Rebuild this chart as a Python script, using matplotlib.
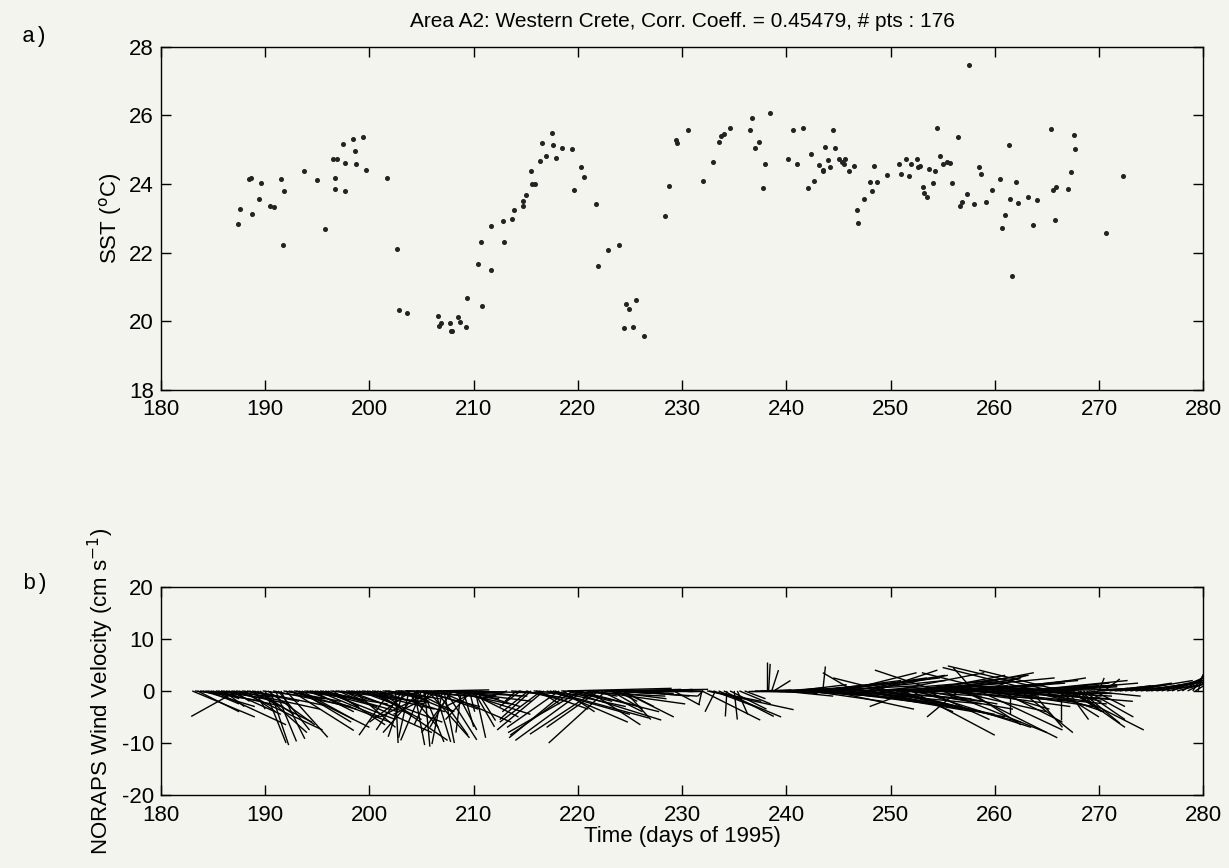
import matplotlib
matplotlib.use("Agg")
import matplotlib.pyplot as plt

sst_day = [187.4, 187.6, 188.4, 188.6, 188.7, 189.4, 189.6, 190.5, 190.8, 191.5,
           191.8, 191.7, 193.7, 195.0, 195.7, 196.5, 196.9, 196.7, 196.7, 197.5,
           197.7, 197.7, 198.4, 198.6, 198.7, 199.4, 199.7, 201.7, 202.6, 202.8,
           203.6, 206.6, 206.7, 206.9, 207.7, 207.8, 207.9, 208.5, 208.7, 209.3,
           209.4, 210.4, 210.7, 210.8, 211.7, 211.7, 212.8, 212.9, 213.7, 213.9,
           214.7, 214.7, 215.0, 215.5, 215.6, 215.9, 216.4, 216.6, 216.9, 217.5,
           217.6, 217.9, 218.5, 219.4, 219.6, 220.3, 220.6, 221.7, 221.9, 222.9,
           223.9, 224.4, 224.6, 224.9, 225.3, 225.6, 226.3, 228.4, 228.7, 229.4,
           229.5, 230.6, 232.0, 233.0, 233.5, 233.7, 234.0, 234.6, 236.5, 236.7,
           237.0, 237.4, 237.8, 238.0, 238.4, 240.2, 240.6, 241.0, 241.6, 242.1,
           242.4, 242.7, 243.1, 243.5, 243.5, 243.7, 244.0, 244.2, 244.5, 244.7,
           245.1, 245.3, 245.5, 245.6, 246.0, 246.5, 246.8, 246.9, 247.5, 248.0,
           248.2, 248.4, 248.7, 249.7, 250.8, 251.0, 251.5, 251.8, 252.0, 252.5,
           252.6, 252.8, 253.1, 253.2, 253.5, 253.7, 254.05, 254.3, 254.5, 254.7,
           255.0, 255.4, 255.7, 255.9, 256.5, 256.7, 256.9, 257.3, 257.5, 258.0,
           258.5, 258.7, 259.2, 259.7, 260.5, 260.7, 261.0, 261.4, 261.5, 261.7,
           262.0, 262.2, 263.2, 263.7, 264.1, 265.4, 265.6, 265.9, 265.8, 267.0,
           267.3, 267.6, 267.7, 270.7, 272.3]
sst_val = [22.82, 23.26, 24.15, 24.19, 23.12, 23.57, 24.04, 23.36, 23.33, 24.16,
           23.80, 22.23, 24.39, 24.12, 22.70, 24.72, 24.72, 24.19, 23.86, 25.17,
           24.62, 23.80, 25.30, 24.95, 24.58, 25.36, 24.40, 24.19, 22.11, 20.34,
           20.25, 20.16, 19.87, 19.95, 19.96, 19.71, 19.71, 20.13, 19.99, 19.84,
           20.68, 21.68, 22.31, 20.43, 22.78, 21.49, 22.93, 22.31, 22.97, 23.24,
           23.51, 23.36, 23.68, 24.37, 24.00, 23.99, 24.66, 25.21, 24.81, 25.48,
           25.15, 24.77, 25.04, 25.03, 23.83, 24.50, 24.21, 23.43, 21.60, 22.09,
           22.21, 19.81, 20.49, 20.36, 19.84, 20.63, 19.58, 23.07, 23.94, 25.28,
           25.20, 25.58, 24.09, 24.64, 25.22, 25.39, 25.47, 25.64, 25.58, 25.92,
           25.06, 25.22, 23.87, 24.57, 26.07, 24.73, 25.57, 24.59, 25.63, 23.88,
           24.89, 24.10, 24.55, 24.42, 24.38, 25.07, 24.69, 24.49, 25.58, 25.05,
           24.73, 24.63, 24.57, 24.73, 24.37, 24.53, 23.24, 22.85, 23.57, 24.07,
           23.79, 24.53, 24.07, 24.25, 24.59, 24.28, 24.74, 24.24, 24.58, 24.74,
           24.49, 24.53, 23.92, 23.75, 23.62, 24.43, 24.04, 24.37, 25.63, 24.81,
           24.57, 24.63, 24.60, 24.02, 25.36, 23.36, 23.48, 23.72, 27.47, 23.43,
           24.50, 24.30, 23.49, 23.84, 24.14, 22.73, 23.10, 25.14, 23.55, 21.31,
           24.07, 23.46, 23.62, 22.80, 23.52, 25.60, 23.82, 23.92, 22.96, 23.85,
           24.36, 25.44, 25.02, 22.56, 24.22]

# NORAPS wind sticks (00/12 UTC): start day, u and v (cm/s)
wind_day = [183.0, 183.5, 184.0, 184.5, 185.0, 185.5, 186.0, 186.5, 187.0, 187.3,
            187.5, 188.0, 188.5, 189.0, 189.5, 190.0, 190.5, 191.0, 191.5, 192.0,
            192.5, 193.0, 193.5, 194.0, 194.5,
            195.0, 195.5, 196.0, 196.5, 197.0, 197.5, 198.0, 198.5, 199.0, 199.5,
            200.0, 200.5, 201.0, 201.5, 202.0, 202.5,
            202.5, 203.0, 203.3, 203.5, 203.6, 204.0, 204.3, 204.6, 205.0, 205.0,
            205.3, 205.6, 206.0, 206.3, 206.5, 206.6, 207.0, 207.3, 207.6, 208.0,
            208.3, 208.6, 209.0, 209.3, 209.6, 210.0, 210.3, 210.3,
            213.2, 214.1, 214.5, 215.0, 215.5, 216.0, 216.5, 217.0, 217.3, 217.8,
            218.2, 218.6, 219.0, 219.0, 219.5, 220.0, 220.5, 221.0, 221.5, 221.7,
            222.2, 222.7, 223.2, 223.7, 224.0, 224.2, 224.5, 224.7, 225.2,
            226.0, 227.5, 229.0, 229.2, 230.5, 231.9, 231.9, 232.0, 232.4, 233.0,
            233.5, 234.0, 234.3, 235.0, 235.5, 236.0, 236.3, 238.1, 238.3, 238.6,
            238.8, 239.0, 239.5, 240.0, 240.5,
            241.0, 241.5, 242.0, 242.5, 243.0, 243.5, 244.0, 244.5, 245.0, 245.5,
            246.0, 246.5, 247.0, 247.5, 248.0, 248.5, 249.0, 249.5, 250.0, 250.5,
            251.0, 251.5, 252.0, 252.0, 252.5, 253.0, 253.5, 254.0, 254.5, 255.0,
            255.5, 256.0, 256.5, 257.0, 257.0, 257.5, 258.0, 258.0, 258.5, 259.0,
            259.5, 260.0, 260.5, 261.0, 261.5, 262.0, 262.5, 263.0, 263.5, 264.0,
            264.5, 265.0, 265.5, 266.0, 266.5,
            266.4, 266.9, 267.0, 267.5, 268.2, 268.8, 269.5, 270.0, 270.5, 271.0,
            272.0, 273.0, 274.0, 275.0, 276.0, 277.0, 278.0, 279.0, 279.5]
wind_u = [12, 8, 10, 6, 14, 4, 4, 10, 3, -8.8,
          16, 6, 12, 2, 9, 4, 3.5, 4, 4.6, 8,
          12, 14, 10, 16, 8,
          12, 14, 6, 10, 18, 4, 12, 8, 16, 6,
          10, 14, 4, 8, -6, 0.5,
          20, 10, -3, 14, 6, -8, 2, 12, -4, 16,
          1, 8, -10, 3, 10, 14, -2, 6, 16, -6,
          4, 20, 2, 10, 1, 4, -6, 3.6,
          -4.8, -2.2, -4, 8, -6, 10, -8, 16, 19, 14,
          -10, 6, 18, 20, -12, 12, -13, 10, 22, -12.6,
          8, -11, 6, 4, 14, 10, 5, 12, 8,
          10, 8, 4, 5, 3, 11.2, -0.6, -1, 16.6, 8,
          12, 9.6, -0.3, 0.6, 6, 4, 9.6, 0, 0.3, 1.3,
          3.2, 8, 10, 6, 10,
          10, 14, 12, 18, 16, 0.5, 20, 18, 22, 14,
          24, -6, 20, 16, 26, 12, 22, -10, 18, 24,
          10, 20, -8, 16, 22, 16, 12, 24, -12, 20,
          14, 18, -6, 22, 18, 10, 26, -4, 16, 8,
          20, -14, 12, 18, 0, 14, 10, 16, 6, -18,
          12, 20, -20, 8, -16,
          0, 14.8, 4, 10, 7.6, 9, 6, 1, 3, 8,
          10, 12, 10, 12, 8, 6, 4, 2, 1]
wind_v = [-5.0, -4.0, -3.0, -2.5, -6.5, -1.5, -3.0, -4.5, -2.0, -4.9,
          -7.5, -4.0, -6.0, -3.5, -8.0, -10.0, -10.4, -9.7, -9.2, -8.9,
          -7.6, -7.0, -5.5, -6.0, -4.0,
          -5.0, -5.5, -3.0, -6.5, -8.0, -2.0, -4.5, -7.0, -6.0, -2.5,
          -5.5, -9.5, -3.0, -1.5, -8.5, -10.0,
          -0.4, -4.0, -8.8, -0.3, -7.0, -6.0, -10.4, -3.0, -9.5, -0.2,
          -10.7, -9.0, -5.0, -9.8, 0.2, -6.0, -10.2, -9.4, -2.0, -8.0,
          -7.5, -0.5, -6.9, -5.0, -4.0, -6.9, -3.0, -5.7,
          -1.7, -2.0, -3.0, -2.0, -5.5, -3.5, -6.0, -4.5, -5.2, -6.0,
          -7.0, -4.0, -5.6, 0.5, -8.5, -3.0, -9.5, -6.5, 0.3, -8.3,
          -4.0, -10.0, -3.5, -2.0, 0.0, -5.0, -5.5, -1.0, -0.5,
          0.2, -0.1, 0.3, -2.7, 0.0, -5.6, -2.7, -1.0, -3.6, -3.0,
          -5.0, -4.9, -4.9, -5.5, -2.5, -1.5, 0.0, 5.6, 5.2, 4.0,
          2.0, 0.3, -1.0, -0.5, 0.5,
          0.5, -1.0, 1.0, -1.5, 2.0, 4.7, -2.5, 2.5, -3.0, 3.5,
          -4.0, 3.5, -3.5, 3.0, -5.0, 4.0, -4.5, 2.5, 3.5, -6.0,
          -4.0, 2.0, -3.0, -8.5, -7.0, 3.0, -5.5, 1.5, 4.0, -8.0,
          2.5, -4.0, -5.0, 2.0, -9.0, -6.5, -1.5, 4.5, -7.5, 3.0,
          -3.0, 3.5, -6.0, 1.0, -4.5, -2.0, -8.0, 1.5, -7.0, 4.5,
          -4.0, 0.5, 4.8, -5.0, 4.0,
          -5.5, -7.5, -5.5, -7.0, -6.2, -5.0, -3.0, 2.5, 2.3, 1.0,
          1.5, 2.0, 1.5, 2.5, 2.0, 2.5, 2.6, 3.0, 3.2]

# NORAPS wind sticks (06/18 UTC)
wind_day2 = [183.25, 183.75, 184.25, 184.75, 185.25, 185.75, 186.25, 186.75, 187.25, 187.75,
             188.25, 188.75, 189.25, 189.75, 190.25, 190.75, 191.25, 191.75, 192.25, 192.75,
             193.25, 193.75, 194.25, 194.75, 195.25, 195.75, 196.25, 196.75, 197.25, 197.75,
             198.25, 198.75, 199.25, 199.75, 200.25, 200.75, 201.25, 201.75,
             202.75, 203.15, 203.45, 203.8, 204.15, 204.45, 204.8, 205.15, 205.45, 205.8,
             206.15, 206.45, 206.8, 207.15, 207.45, 207.8, 208.15, 208.45, 208.8, 209.15,
             209.45, 209.8, 210.15, 210.5,
             213.6, 214.3, 215.25, 215.75, 216.25, 216.75, 217.6, 218.4, 218.9, 219.3,
             219.8, 220.3, 220.8, 221.3, 222.0, 222.5, 223.0, 223.5, 224.3, 224.9,
             226.5, 228.0, 232.6, 233.2, 234.6, 235.3, 236.6, 237.0, 237.5, 239.3,
             239.8, 240.3, 240.8,
             241.25, 241.75, 242.25, 242.75, 243.25, 243.75, 244.25, 244.75, 245.25, 245.75,
             246.25, 246.75, 247.25, 247.75, 248.25, 248.75, 249.25, 249.75, 250.25, 250.75,
             251.25, 251.75, 252.25, 252.75, 253.25, 253.75, 254.25, 254.75, 255.25, 255.75,
             256.25, 256.75, 257.25, 257.75, 258.25, 258.75, 259.25, 259.75, 260.25, 260.75,
             261.25, 261.75, 262.25, 262.75, 263.25, 263.75, 264.25, 264.75, 265.25, 265.75,
             266.25, 266.75,
             267.25, 268.0, 268.5, 269.0, 269.8, 270.3, 271.5, 272.5, 273.5, 274.5,
             275.5, 276.5, 277.5, 278.5, 279.25]
wind_u2 = [8, 12, 6, 14, 10, 5, 12, 8, 16, 6,
           10, 14, 7, 12, 9, 15, 6, 11, 13, 8,
           10, 16, 7, 12, 9, 14, 6, 18, 10, 8,
           12, 15, 6, 11, 9, 13, 7, 10,
           6, -5, 12, -2, 8, 16, -7, 4, 10, -3,
           18, 6, -9, 2, 12, -4, 8, 14, -1, 6,
           10, -5, 2, 8,
           6, 10, -5, 12, 4, -9, 14, 20, -11, 8,
           16, -14, 6, 18, -10, 12, 8, 16, 6, 10,
           6, 8, 10, -2, 7, 2, 8, 10, 6, 12,
           8, 14, 10,
           12, 16, 14, 20, 18, 22, 16, 24, 20, 26,
           18, 22, 28, 16, 24, 20, 26, 18, 22, 16,
           24, 20, 18, 26, 14, 22, 20, 18, 24, 16,
           22, 20, 14, 26, 18, 24, 12, 22, 20, 16,
           24, 14, 18, 20, 12, 16, 14, 18, 10, 12,
           8, 10,
           6, 4, 8, 10, 6, 10, 12, 8, 14, 10,
           12, 8, 8, 6, 4]
wind_v2 = [-1.0, -2.0, -0.8, -3.0, -1.5, -0.6, -2.5, -1.2, -3.5, -0.8,
           -2.0, -2.8, -4.5, -1.5, -6.5, -3.0, -7.5, -2.0, -3.5, -1.0,
           -6.0, -2.5, -1.0, -3.0, -1.8, -4.0, -0.7, -2.2, -3.0, -1.0,
           -2.0, -3.5, -0.8, -2.5, -1.2, -4.0, -0.6, -1.5,
           -2.0, -7.5, -1.0, -9.0, -4.0, -1.5, -8.0, -9.8, -3.5, -6.5,
           -1.0, -8.5, -4.5, -10.0, -2.5, -7.0, -1.0, -4.5, -8.0, -1.5,
           -3.0, -5.5, -9.0, -1.0,
           -0.5, -1.5, -4.0, -1.0, -2.5, -7.5, -3.0, -1.0, -9.0, -2.0,
           -4.0, -8.0, -1.0, -2.5, -7.0, -1.5, -0.5, -1.0, -3.0, 0.3,
           0.0, 0.2, -2.0, -4.0, -3.5, -4.5, 0.0, -0.3, 0.2, 0.0,
           0.6, -0.8, 1.2,
           -0.5, 1.5, -2.0, 1.0, -1.0, 2.5, -3.5, 0.5, 2.0, -2.5,
           3.0, -1.5, 1.0, -3.0, 2.0, -2.0, 0.5, -4.0, 1.5, -1.0,
           3.0, -3.5, 0.0, 2.5, -2.5, 1.0, -1.5, 3.5, -2.0, 0.5,
           -3.0, 1.5, -1.0, -2.5, 2.0, -0.5, -3.5, 1.0, -1.5, 2.5,
           -2.0, 0.5, -1.0, 2.0, -3.0, 1.0, -0.5, 1.5, -2.0, 0.8,
           -1.0, 1.2,
           -4.0, -3.5, -5.5, -1.0, 0.5, 1.0, 0.8, 1.2, 1.8, 1.0,
           2.2, 1.5, 2.0, 2.8, 2.5]

UV_SCALE = 0.5  # days per cm/s, keeps stick angles true on this axes aspect
bg = '#f4f4ee'
sans = ['Liberation Sans', 'DejaVu Sans']
narrow = ['Liberation Sans Narrow', 'Liberation Sans', 'DejaVu Sans']
mono = ['Liberation Mono', 'DejaVu Sans Mono']

plt.rcParams['font.family'] = sans
plt.rcParams['font.size'] = 16
plt.rcParams['axes.unicode_minus'] = False

fig = plt.figure(figsize=(12.29, 8.68), dpi=100, facecolor=bg)


def style(ax):
    ax.set_facecolor(bg)
    ax.set_xlim(180, 280)
    ax.set_xticks(range(180, 281, 10))
    ax.tick_params(direction='in', top=True, right=True, length=7, width=1,
                   labelsize=16)
    ax.tick_params(axis='x', pad=7)
    ax.tick_params(axis='y', pad=5)
    for s in ax.spines.values():
        s.set_linewidth(1.0)


ax1 = fig.add_axes([0.131, 0.551, 0.848, 0.395])
style(ax1)
ax1.plot(sst_day, sst_val, 'o', ms=2.6, color='#222222', mec='#222222')
ax1.set_ylim(18, 28)
ax1.set_yticks(range(18, 29, 2))
ax1.set_ylabel('SST ($^{\\rm o}$C)', family=narrow, fontsize=16, labelpad=4)
ax1.set_title('Area A2: Western Crete, Corr. Coeff. = 0.45479, # pts : 176',
              fontsize=15, pad=14)

ax2 = fig.add_axes([0.131, 0.084, 0.848, 0.240])
style(ax2)
for t, u, v in zip(wind_day + wind_day2, wind_u + wind_u2, wind_v + wind_v2):
    ax2.plot([t, t + u * UV_SCALE], [0, v], color='black', lw=1.0,
             solid_capstyle='butt')
ax2.set_ylim(-20, 20)
ax2.set_yticks([-20, -10, 0, 10, 20])
ax2.set_xlabel('Time (days of 1995)', fontsize=16, labelpad=0)
ax2.set_ylabel('NORAPS Wind Velocity (cm s$^{-1}$)', family=narrow,
               fontsize=16, labelpad=4)

fig.text(0.018, 0.958, 'a)', family=mono, fontsize=16, va='center')
fig.text(0.018, 0.328, 'b)', family=mono, fontsize=16, va='center')

fig.savefig('out.png', dpi=100, facecolor=bg)
